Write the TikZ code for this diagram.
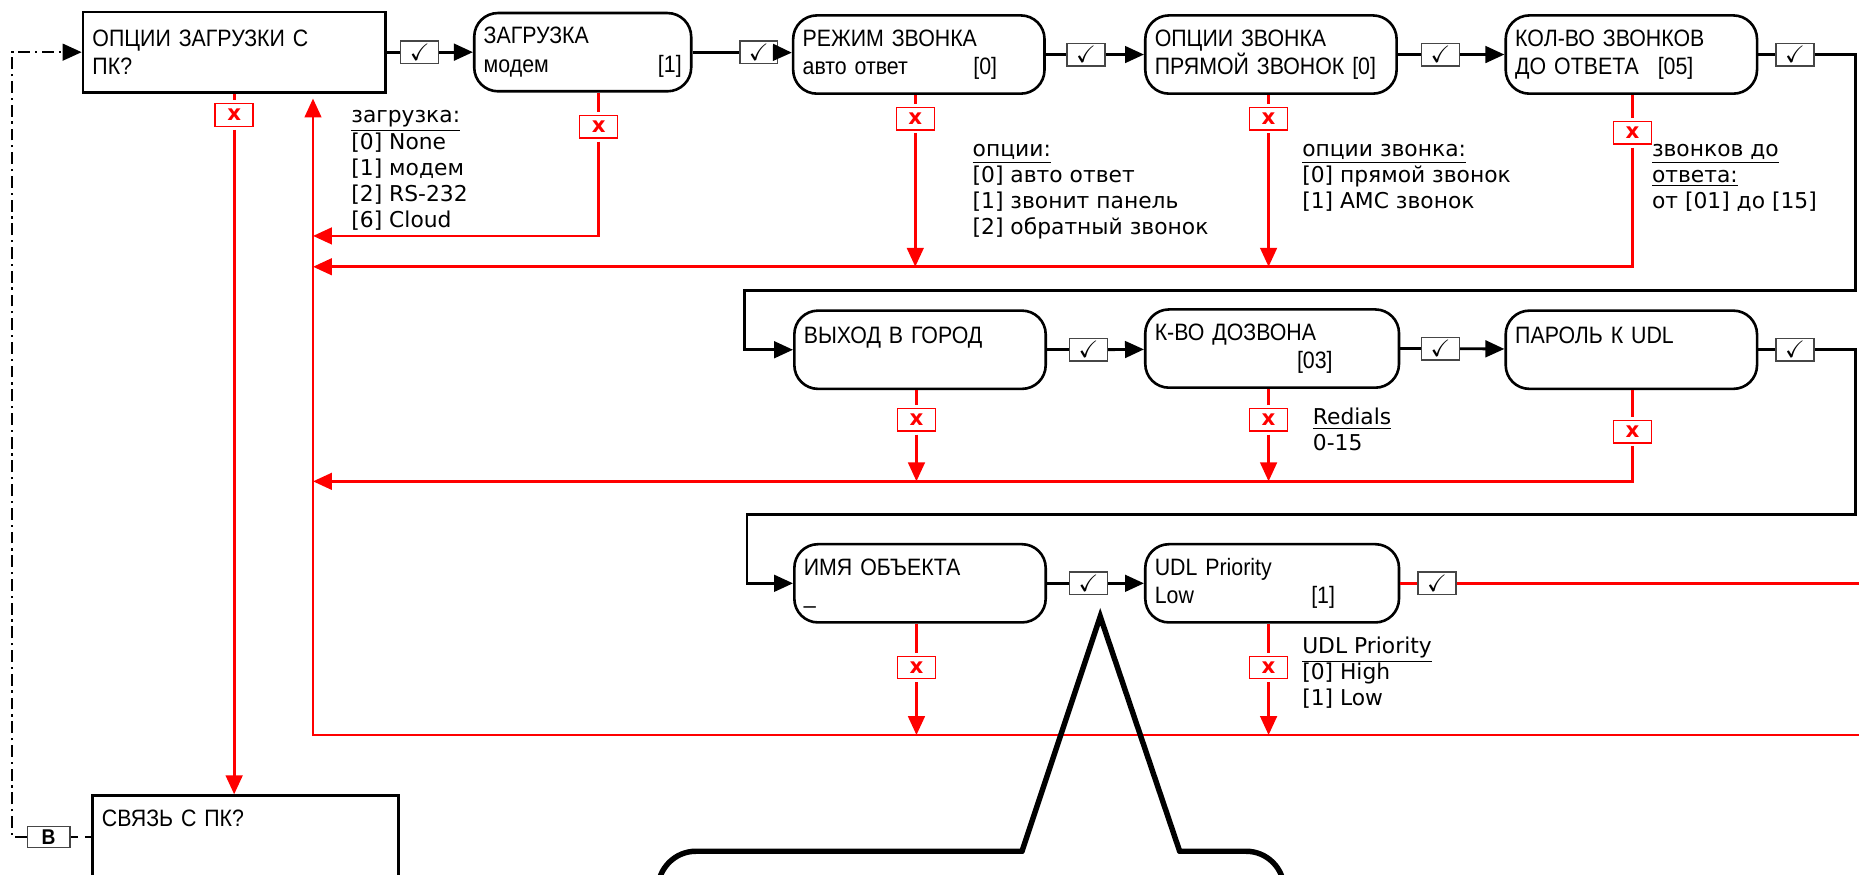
\documentclass[tikz,border=0pt]{standalone}
\usepackage{amssymb}
\usepackage{fontspec}
\setmainfont{Liberation Sans}[FakeStretch=0.9]
\newfontfamily\notefont{DejaVu Sans}
\usetikzlibrary{arrows.meta, positioning, calc}
\definecolor{failred}{RGB}{255, 0, 0}
\definecolor{framegray}{RGB}{70, 70, 70}
\newcommand{\pushright}{\hspace{0pt plus 1filll}}

\begin{document}
\begin{tikzpicture}[
    x=0.5pt, y=-0.5pt,
    question/.style={rectangle, draw, line width=1.1pt, inner sep=4pt, text width=#1, minimum height=34pt, align=left, font=\fontsize{10}{12}\selectfont},
    screen/.style={question=#1, rounded corners=10pt, minimum height=33pt},
    okbox/.style={rectangle, draw=framegray, line width=0.6pt, minimum width=16pt, minimum height=9.5pt, inner sep=0pt, fill=white},
    xbox/.style={rectangle, draw=failred, line width=0.6pt, minimum width=16pt, minimum height=9.5pt, inner sep=0pt, outer sep=1.5pt, text=failred, font=\notefont\bfseries\fontsize{9}{9}\selectfont},
    bbox/.style={rectangle, draw=framegray, line width=0.6pt, minimum width=18pt, minimum height=9pt, inner sep=0pt, fill=white, font=\bfseries\small},
    note/.style={anchor=north west, inner sep=0pt, align=left, font=\notefont\fontsize{9.2}{11}\selectfont},
    link/.style={line width=1.2pt},
    arrow/.style={-{Triangle[length=8pt, width=7pt]}, line width=1.2pt},
    fail/.style={failred, line width=1.2pt},
    failarrow/.style={-{Triangle[length=8pt, width=7pt]}, failred, line width=1.2pt},
    callout/.style={line width=2.3pt, line cap=round}
]
\useasboundingbox (0,0) rectangle (1568,738);
\clip (0,0) rectangle (1568,738);
% screens
\node[question=119.5pt] (load) at (197.5,44) {ОПЦИИ ЗАГРУЗКИ С\\ПК?};
\node[screen=83.5pt] (zagr) at (491.5,44) {ЗАГРУЗКА\\модем\pushright[1]};
\node[screen=98pt] (rezhim) at (775,46) {РЕЖИМ ЗВОНКА\\авто ответ\pushright[0]\kern16pt};
\node[screen=98pt] (opcii) at (1072,46) {ОПЦИИ ЗВОНКА\\ПРЯМОЙ ЗВОНОК [0]};
\node[screen=98pt] (kolvo) at (1376,46) {КОЛ-ВО ЗВОНКОВ\\ДО ОТВЕТА\hspace{8pt}[05]};
\node[screen=98pt] (vyhod) at (776,295) {ВЫХОД В ГОРОД\\\mbox{}};
\node[screen=99pt] (dozvon) at (1073,294) {К-ВО ДОЗВОНА\\\mbox{}\pushright[03]\kern24pt};
\node[screen=98pt] (parol) at (1376,295) {ПАРОЛЬ К UDL\\\mbox{}};
\node[screen=98pt] (imya) at (776,492) {ИМЯ ОБЪЕКТА\\\_};
\node[screen=99pt] (prior) at (1073,492) {UDL Priority\\Low\pushright[1]\kern23pt};
\node[question=121pt, anchor=north, text height=9pt, text depth=55pt] (svyaz) at (207,670) {СВЯЗЬ С ПК?};
% ok boxes
\node[okbox] (c1) at (354,44) {$\checkmark$};
\node[okbox] (c2) at (640,44) {$\checkmark$};
\node[okbox] (c3) at (916,46) {$\checkmark$};
\node[okbox] (c4) at (1215,46) {$\checkmark$};
\node[okbox] (c5) at (1514,46) {$\checkmark$};
\node[okbox] (c6) at (918,295) {$\checkmark$};
\node[okbox] (c7) at (1215,294) {$\checkmark$};
\node[okbox] (c8) at (1514,295) {$\checkmark$};
\node[okbox] (c9) at (918,492) {$\checkmark$};
\node[okbox] (c10) at (1212,492) {$\checkmark$};
% cancel boxes
\node[xbox] (x1) at (197.5,97) {x};
\node[xbox] (x2) at (505,107) {x};
\node[xbox] (x3) at (772,100) {x};
\node[xbox] (x4) at (1070,100) {x};
\node[xbox] (x5) at (1377,112) {x};
\node[xbox] (x6) at (773,354) {x};
\node[xbox] (x7) at (1070,354) {x};
\node[xbox] (x8) at (1377,364) {x};
\node[xbox] (x9) at (773,563) {x};
\node[xbox] (x10) at (1070,563) {x};
\node[bbox] (bmark) at (41,706) {B};
% turning points
\coordinate (turn1) at (1565,245);
\coordinate (back1) at (628,245);
\coordinate (turn2) at (1565,434);
\coordinate (back2) at (630,434);
\coordinate (exit3) at (1572,492);
\coordinate (in3) at (1572,620);
\coordinate (ret) at (264,620);
\coordinate (rail0) at (264,199);
\coordinate (rail1) at (264,225);
\coordinate (rail2) at (264,406);
\coordinate (pcin) at (10,44);
% notes
\node[note] (nzagr) at (296,93) {\underline{загрузка:}\\{}[0] None\\{}[1] модем\\{}[2] RS-232\\{}[6] Cloud};
\node[note] (nrezhim) at (820,121) {\underline{опции:}\\{}[0] авто ответ\\{}[1] звонит панель\\{}[2] обратный звонок};
\node[note] (nopcii) at (1098,121) {\underline{опции звонка:}\\{}[0] прямой звонок\\{}[1] АМС звонок};
\node[note] (nkolvo) at (1393,121) {\underline{звонков до}\\\underline{ответа:}\\от [01] до [15]};
\node[note] (ndozvon) at (1107,344) {\underline{Redials}\\0-15};
\node[note] (nprior) at (1098,537) {\underline{UDL Priority}\\{}[0] High\\{}[1] Low};
% red returns
\draw[fail] (load) -- (x1);
\draw[failarrow] (x1) -- (x1 |- svyaz.north);
\draw[failarrow, shorten >=2pt] (in3) -- (ret) -- (ret |- load.south);
\draw[fail] (x2 |- zagr.south) -- (x2);
\draw[failarrow] (x2) |- (rail0);
\draw[fail] (x3 |- rezhim.south) -- (x3);
\draw[failarrow] (x3) -- (x3 |- rail1);
\draw[fail] (x4 |- opcii.south) -- (x4);
\draw[failarrow] (x4) -- (x4 |- rail1);
\draw[fail] (x5 |- kolvo.south) -- (x5);
\draw[failarrow] (x5) |- (rail1);
\draw[fail] (x6 |- vyhod.south) -- (x6);
\draw[failarrow] (x6) -- (x6 |- rail2);
\draw[fail] (x7 |- dozvon.south) -- (x7);
\draw[failarrow] (x7) -- (x7 |- rail2);
\draw[fail] (x8 |- parol.south) -- (x8);
\draw[failarrow] (x8) |- (rail2);
\draw[fail] (x9 |- imya.south) -- (x9);
\draw[failarrow] (x9) -- (x9 |- ret);
\draw[fail] (x10 |- prior.south) -- (x10);
\draw[failarrow] (x10) -- (x10 |- ret);
% main flow
\draw[link] (load) -- (c1); \draw[arrow] (c1) -- (zagr);
\draw[link] (zagr) -- (c2); \draw[arrow] (c2) -- (rezhim);
\draw[link] (rezhim) -- (c3); \draw[arrow] (c3) -- (opcii);
\draw[link] (opcii) -- (c4); \draw[arrow] (c4) -- (kolvo);
\draw[link] (kolvo) -- (c5);
\draw[arrow] (c5) -| (turn1) -- (back1) |- (vyhod);
\draw[link] (vyhod) -- (c6); \draw[arrow] (c6) -- (dozvon);
\draw[link] (dozvon) -- (c7); \draw[arrow] (c7) -- (parol);
\draw[link] (parol) -- (c8);
\draw[arrow] (c8) -| (turn2) -- (back2) |- (imya);
\draw[link] (imya) -- (c9); \draw[arrow] (c9) -- (prior);
\draw[fail] (prior) -- (c10); \draw[fail] (c10) -- (exit3);
% link back from pc
\draw[line width=1pt, dash pattern=on 5pt off 2pt on 1pt off 2pt, -{Triangle[length=8pt, width=7pt]}] (bmark) -| (pcin) -- (load);
\draw[line width=1pt, dashed] (bmark) -- (svyaz.west |- bmark);
% callout
\draw[callout, rounded corners=16pt] (555,790) -- (555,718) -- (862,718);
\draw[callout] (862,718) -- (928,520) -- (995,718);
\draw[callout, rounded corners=16pt] (995,718) -- (1083,718) -- (1083,790);
\end{tikzpicture}
\end{document}
